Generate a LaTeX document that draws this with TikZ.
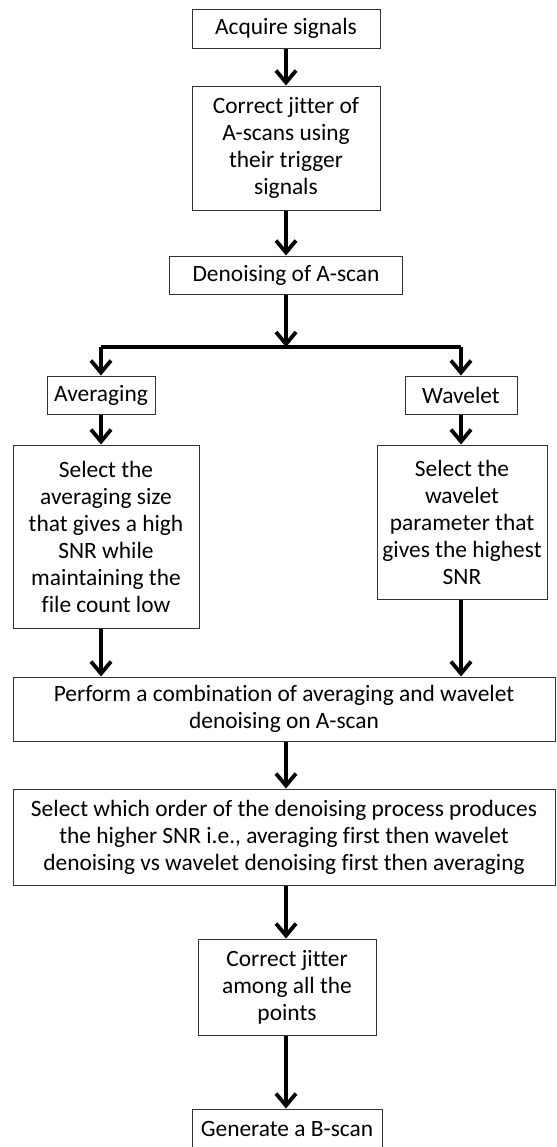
\documentclass[tikz,border=0pt]{standalone}
\usepackage{fontspec}
\setmainfont{Carlito}[Ligatures=CommonOff]
\usepackage{tikz}
\usetikzlibrary{arrows.meta, positioning, calc}

\begin{document}
\begin{tikzpicture}[
    x=0.5pt, y=-0.5pt, % coordinates in pixels of the original figure
    every node/.style={font=\fontsize{11.7}{13.5}\selectfont},
    stepbox/.style={draw=black!80, line width=0.5pt, align=center, inner sep=2pt},
    flow/.style={line width=1.9pt, -{Straight Barb[length=6pt, width=10pt]}},
    bus/.style={line width=1.9pt},
]
\useasboundingbox (0,0) rectangle (557,1147);

% =========================================================
% 1. Acquisition and jitter correction
% =========================================================
\node[stepbox, minimum width=94pt, minimum height=19.5pt] (acq) at (286, 28.5) {Acquire signals};

\node[stepbox, minimum width=94pt, minimum height=62pt] (jitA) at (286, 148)
    {Correct jitter of\\A-scans using\\their trigger\\signals};

\node[stepbox, minimum width=116.5pt, minimum height=19pt] (den) at (286, 275) {Denoising of A-scan};

\draw[flow] (acq) -- (jitA);
\draw[flow] (jitA) -- (den);

% =========================================================
% 2. Two denoising branches
% =========================================================
\coordinate (split) at (286, 347);
\coordinate (splitL) at (101, 347);
\coordinate (splitR) at (461, 347);

\node[stepbox, minimum width=54pt, minimum height=19pt] (avg) at (101, 395) {Averaging};
\node[stepbox, minimum width=56pt, minimum height=19pt] (wav) at (461, 395) {Wavelet};

\node[stepbox, minimum width=93pt, minimum height=91.5pt] (selAvg) at (106, 536.5)
    {Select the\\averaging size\\that gives a high\\SNR while\\maintaining the\\file count low};
\node[stepbox, minimum width=85pt, minimum height=77pt] (selWav) at (462, 522)
    {Select the\\wavelet\\parameter that\\gives the highest\\SNR};

% Denoising -> bus -> branches
\draw[flow] (den) -- (split);
\draw[bus] (splitL) -- (splitR);
\draw[flow] (splitL) -- (avg);
\draw[flow] (splitR) -- (wav);

\draw[flow] (avg.south) -- (avg.south |- selAvg.north);
\draw[flow] (wav.south) -- (wav.south |- selWav.north);

% =========================================================
% 3. Combination and order selection
% =========================================================
\node[stepbox, minimum width=271pt, minimum height=32pt] (comb) at (284, 709)
    {Perform a combination of averaging and wavelet\\denoising on A-scan};

\node[stepbox, minimum width=271pt, minimum height=48pt] (order) at (284, 837)
    {Select which order of the denoising process produces\\the higher SNR i.e., averaging first then wavelet\\denoising vs wavelet denoising first then averaging};

\draw[flow] (avg.south |- selAvg.south) -- (avg.south |- comb.north);
\draw[flow] (wav.south |- selWav.south) -- (wav.south |- comb.north);
\draw[flow] (split |- comb.south) -- (split |- order.north);

% =========================================================
% 4. Final jitter correction and B-scan
% =========================================================
\node[stepbox, minimum width=89pt, minimum height=48pt] (jitB) at (287, 987)
    {Correct jitter\\among all the\\points};

\node[stepbox, minimum width=95pt, minimum height=19.5pt] (bscan) at (287, 1128.5) {Generate a B-scan};

\draw[flow] (split |- order.south) -- (split |- jitB.north);
\draw[flow] (split |- jitB.south) -- (split |- bscan.north);

\end{tikzpicture}
\end{document}
